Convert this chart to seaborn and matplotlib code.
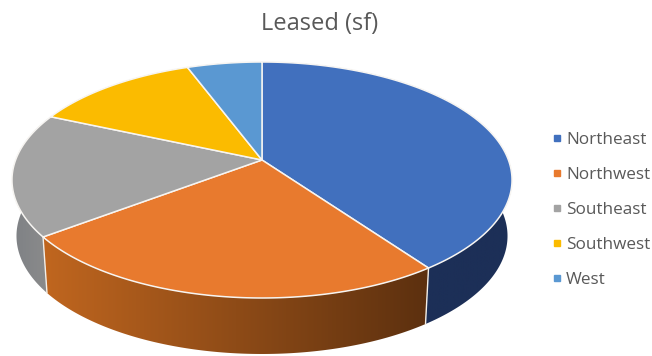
import numpy as np
import matplotlib
matplotlib.use("Agg")
import matplotlib.pyplot as plt
from matplotlib.colors import LinearSegmentedColormap
from matplotlib.lines import Line2D
from matplotlib.patches import Polygon
import seaborn as sns

regions = ["Northeast", "Northwest", "Southeast", "Southwest", "West"]
leased_share = [40.1, 24.6, 16.9, 12.7, 5.7]
top_colors = ["#4170BE", "#E87A2E", "#A3A3A3", "#FBBB00", "#5A98D2"]
wall_left = ["#1C2F57", "#C0661F", "#7E8185", "#9C7500", "#2F5F8C"]
wall_right = ["#1C2F57", "#5C300F", "#8C8C8C", "#9C7500", "#2F5F8C"]

sns.set_theme(style="white")
plt.rcParams["font.family"] = ["Open Sans", "DejaVu Sans"]
palette = sns.color_palette(top_colors)

fig, ax = plt.subplots(figsize=(6.52, 3.56), dpi=100)
ax.set_position([0, 0, 1, 1])
ax.set_xlim(0, 652)
ax.set_ylim(356, 0)
ax.axis("off")

# Perspective view of a flat disc
cx, cy = 262.0, 160.0
tilt, scale_x, scale_y = 0.1695, 246.4, 114.6
depth = 56.0
base_shrink = 0.982


def rim(theta):
    """Project clockwise-from-north angles onto the top face of the disc."""
    u, v = np.sin(theta), np.cos(theta)
    w = 1 + tilt * v
    return cx + scale_x * u / w, cy - scale_y * v / w


edges = np.radians(np.concatenate([[0], np.cumsum(leased_share)]) * 3.6)
spans = list(zip(edges[:-1], edges[1:]))

# Side walls first, so the top faces cover their upper part
for i, (a, b) in enumerate(spans):
    t = np.linspace(a, b, 240)
    x, y = rim(t)
    x_low = cx + (x - cx) * base_shrink
    y_low = y + depth
    outline = np.column_stack([np.r_[x, x_low[::-1]], np.r_[y, y_low[::-1]]])
    patch = Polygon(outline, closed=True, fc="none", ec="none", zorder=2)
    ax.add_patch(patch)
    cmap = LinearSegmentedColormap.from_list("wall", [wall_left[i], wall_right[i]])
    shade = ax.imshow(
        np.linspace(0, 1, 256)[None, :],
        cmap=cmap,
        extent=(x.min(), x.max(), y.max() + depth, y.min()),
        aspect="auto",
        zorder=2,
    )
    shade.set_clip_path(patch)
    if np.cos((a + b) / 2) < 0.2:
        ax.plot([x[0], x_low[0]], [y[0], y_low[0]], color="#F4EFE8", lw=1.0, zorder=3)

# Top faces
for i, (a, b) in enumerate(spans):
    x, y = rim(np.linspace(a, b, 240))
    face = np.column_stack([np.r_[cx, x], np.r_[cy, y]])
    ax.add_patch(Polygon(face, closed=True, fc=palette[i], ec="#F7F5F2", lw=1.1,
                         joinstyle="round", zorder=4))

ax.text(320, 24, "Leased (sf)", ha="center", va="center", fontsize=17,
        color="#595959")

handles = [Line2D([], [], ls="", marker="s", ms=4, color=c) for c in palette]
legend = ax.legend(handles, regions, loc="center left", bbox_to_anchor=(0.83, 0.41),
                   frameon=False, fontsize=12.3, labelspacing=1.115, handletextpad=0.1,
                   handlelength=0.85, borderpad=0, labelcolor="#595959")

fig.savefig("out.png", dpi=100)
